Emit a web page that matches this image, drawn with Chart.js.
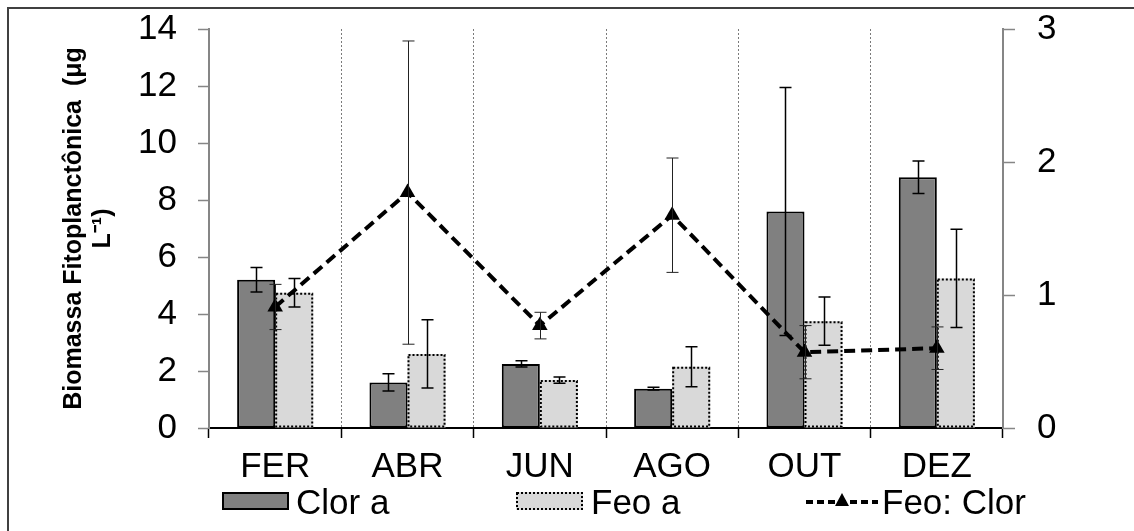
<!DOCTYPE html>
<html>
<head>
<meta charset="utf-8">
<title>Biomassa Fitoplanctônica</title>
<script src="https://cdn.jsdelivr.net/npm/chart.js@4.4.0/dist/chart.umd.min.js"></script>
<style>
  html, body { margin: 0; padding: 0; background: #fff; }
  #wrap { position: relative; width: 1134px; height: 531px; overflow: hidden; }
  #frame { position: absolute; left: 7px; top: 7px; width: 1200px; height: 600px;
           border-left: 2px solid #404040; border-top: 2px solid #404040; }
  #chart { position: absolute; left: 0; top: 0; }
</style>
</head>
<body>
<div id="wrap">
  <div id="frame"></div>
  <canvas id="chart" width="1134" height="531"></canvas>
</div>
<script>
// data
const months = ['FER', 'ABR', 'JUN', 'AGO', 'OUT', 'DEZ'];
const clorA = [5.2, 1.6, 2.25, 1.38, 7.6, 8.8];
const clorErr = [0.43, 0.3, 0.11, 0.05, 4.35, 0.57];
const feoA = [4.75, 2.6, 1.68, 2.15, 3.75, 5.25];
const feoErr = [0.5, 1.2, 0.11, 0.7, 0.85, 1.72];
const feoClor = [0.91, 1.77, 0.77, 1.6, 0.57, 0.6];
const feoClorErr = [0.17, 1.14, 0.1, 0.43, 0.2, 0.16];
const leftTicks = [0, 2, 4, 6, 8, 10, 12, 14];
const rightTicks = [0, 1, 2, 3];

const FONT = "'Liberation Sans', Arial, sans-serif";

// dotted outline for the light bars + error bars, drawn right after each dataset
const barExtras = {
  id: 'barExtras',
  afterDatasetDraw(chart, args) {
    const ds = chart.data.datasets[args.index];
    const meta = args.meta;
    const ctx = chart.ctx;
    ctx.save();
    if (ds.dottedBorder) {
      ctx.strokeStyle = '#000';
      ctx.lineWidth = 2;
      ctx.setLineDash([2, 2]);
      meta.data.forEach(el => {
        const left = el.x - el.width / 2;
        ctx.strokeRect(left + 1, el.y + 1, el.width - 2, el.base - el.y - 2);
      });
      ctx.setLineDash([]);
    }
    if (ds.errors) {
      const yScale = chart.scales[meta.yAxisID];
      ctx.strokeStyle = ds.errorColor;
      ctx.lineWidth = ds.errorWidth;
      meta.data.forEach((el, i) => {
        const top = yScale.getPixelForValue(ds.data[i] + ds.errors[i]);
        const bot = yScale.getPixelForValue(ds.data[i] - ds.errors[i]);
        const x = Math.round(el.x) + 0.5;
        ctx.beginPath();
        ctx.moveTo(x, top); ctx.lineTo(x, bot);
        ctx.moveTo(x - 6, top); ctx.lineTo(x + 6, top);
        ctx.moveTo(x - 6, bot); ctx.lineTo(x + 6, bot);
        ctx.stroke();
      });
    }
    ctx.restore();
  }
};

// legend row under the month labels
const legendRow = {
  id: 'legendRow',
  afterDraw(chart) {
    const ctx = chart.ctx;
    const ds = chart.data.datasets;
    ctx.save();
    ctx.font = '35px ' + FONT;
    ctx.fillStyle = '#000';
    ctx.textBaseline = 'alphabetic';

    // Clor a
    ctx.fillStyle = ds[0].backgroundColor;
    ctx.fillRect(222, 492, 67, 18);
    ctx.strokeStyle = '#000'; ctx.lineWidth = 2;
    ctx.strokeRect(223, 493, 65, 16);
    ctx.fillStyle = '#000';
    ctx.fillText(ds[0].label, 296, 514);

    // Feo a
    ctx.fillStyle = ds[1].backgroundColor;
    ctx.fillRect(516, 492, 67, 18);
    ctx.setLineDash([2, 2]);
    ctx.strokeRect(517, 493, 65, 16);
    ctx.setLineDash([]);
    ctx.fillStyle = '#000';
    ctx.fillText(ds[1].label, 591, 514);

    // Feo: Clor
    ctx.strokeStyle = '#000'; ctx.lineWidth = 4;
    ctx.setLineDash([7, 4]);
    ctx.beginPath(); ctx.moveTo(806, 502); ctx.lineTo(878, 502); ctx.stroke();
    ctx.setLineDash([]);
    ctx.beginPath();
    ctx.moveTo(842, 493); ctx.lineTo(849, 506); ctx.lineTo(835, 506); ctx.closePath();
    ctx.fill();
    ctx.fillText(ds[2].label, 882, 514);
    ctx.restore();
  }
};

// no extra room above/below for the end tick labels
function fitVertical(scale, w) {
  scale.width = w;
  scale.paddingTop = 0;
  scale.paddingBottom = 0;
}

new Chart(document.getElementById('chart'), {
  type: 'bar',
  data: {
    labels: months,
    datasets: [
      {
        label: 'Clor a',
        data: clorA,
        errors: clorErr,
        errorColor: '#000',
        errorWidth: 1.5,
        backgroundColor: '#808080',
        borderColor: '#000',
        borderWidth: 2,
        borderSkipped: false,
        order: 1,
        yAxisID: 'y'
      },
      {
        label: 'Feo a',
        data: feoA,
        errors: feoErr,
        errorColor: '#000',
        errorWidth: 1.5,
        dottedBorder: true,
        backgroundColor: '#d9d9d9',
        borderWidth: 0,
        order: 2,
        yAxisID: 'y'
      },
      {
        type: 'line',
        label: 'Feo: Clor',
        data: feoClor,
        errors: feoClorErr,
        errorColor: '#222',
        errorWidth: 1,
        borderColor: '#000',
        backgroundColor: '#000',
        borderWidth: 4,
        borderDash: [11, 6],
        pointStyle: 'triangle',
        pointRadius: 9,
        pointBorderWidth: 0,
        fill: false,
        tension: 0,
        order: 0,
        yAxisID: 'y1'
      }
    ]
  },
  options: {
    responsive: false,
    animation: false,
    layout: { padding: { top: 29, left: 0, right: 0, bottom: 0 } },
    datasets: {
      bar: { categoryPercentage: 0.575, barPercentage: 1 }
    },
    plugins: {
      legend: { display: false },
      tooltip: { enabled: false }
    },
    scales: {
      x: {
        offset: true,
        afterFit(scale) { scale.height = 103; scale.paddingLeft = 0; scale.paddingRight = 0; },
        grid: {
          offset: true,
          color: '#7a7a7a',
          lineWidth: 1,
          tickLength: 10,
          tickColor: '#000',
          tickWidth: 1.5
        },
        border: { color: '#000', width: 2, dash: [2, 2] },
        ticks: { color: '#000', padding: 8, font: { family: FONT, size: 35 } }
      },
      y: {
        position: 'left',
        min: 0,
        max: 14,
        afterFit(scale) { fitVertical(scale, 209); },
        afterBuildTicks(scale) { scale.ticks = leftTicks.map(v => ({ value: v })); },
        grid: { drawOnChartArea: false, tickLength: 11, tickColor: '#868686', tickWidth: 1.5 },
        border: { color: '#868686', width: 2 },
        ticks: { color: '#000', padding: 21, font: { family: FONT, size: 35 } },
        title: {
          display: true,
          text: ['Biomassa Fitoplanctônica  (μg', 'L⁻¹)'],
          color: '#000',
          padding: { top: 60, bottom: 0 },
          font: { family: FONT, size: 25, weight: 'bold', lineHeight: 1.15 }
        }
      },
      y1: {
        position: 'right',
        min: 0,
        max: 3,
        afterFit(scale) { fitVertical(scale, 131); },
        afterBuildTicks(scale) { scale.ticks = rightTicks.map(v => ({ value: v })); },
        grid: { drawOnChartArea: false, tickLength: 12, tickColor: '#868686', tickWidth: 1.5 },
        border: { color: '#868686', width: 2 },
        ticks: { color: '#000', padding: 22, font: { family: FONT, size: 35 } }
      }
    }
  },
  plugins: [barExtras, legendRow]
});
</script>
</body>
</html>
